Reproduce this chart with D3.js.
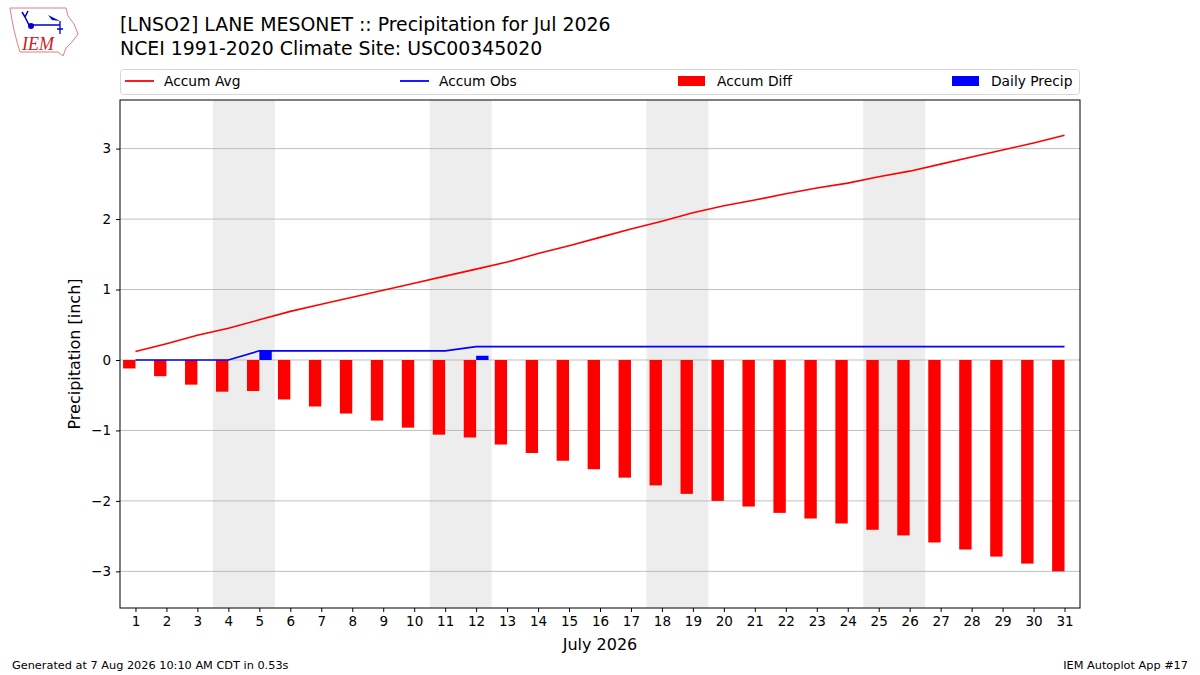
<!DOCTYPE html>
<html>
<head>
<meta charset="utf-8">
<script src="https://cdn.jsdelivr.net/npm/d3@7"></script>
<style>
  body { margin: 0; background: #fff; }
  svg { display: block; font-family: "DejaVu Sans", sans-serif; }
</style>
</head>
<body>
<svg id="chart" width="1200" height="675"></svg>
<script>
const days = d3.range(1, 32);
const accumAvg = [0.12, 0.23, 0.35, 0.45, 0.57, 0.69, 0.79, 0.89, 0.99, 1.09,
  1.19, 1.29, 1.39, 1.51, 1.62, 1.74, 1.86, 1.97, 2.09, 2.19,
  2.27, 2.36, 2.44, 2.51, 2.60, 2.68, 2.78, 2.88, 2.98, 3.08, 3.19];
const accumObs = [0, 0, 0, 0, 0.13, 0.13, 0.13, 0.13, 0.13, 0.13,
  0.13, 0.19, 0.19, 0.19, 0.19, 0.19, 0.19, 0.19, 0.19, 0.19,
  0.19, 0.19, 0.19, 0.19, 0.19, 0.19, 0.19, 0.19, 0.19, 0.19, 0.19];
const accumDiff = [-0.12, -0.23, -0.35, -0.45, -0.44, -0.56, -0.66, -0.76, -0.86, -0.96,
  -1.06, -1.10, -1.20, -1.32, -1.43, -1.55, -1.67, -1.78, -1.90, -2.00,
  -2.08, -2.17, -2.25, -2.32, -2.41, -2.49, -2.59, -2.69, -2.79, -2.89, -3.00];
const dailyPrecip = [0, 0, 0, 0, 0.13, 0, 0, 0, 0, 0,
  0, 0.06, 0, 0, 0, 0, 0, 0, 0, 0,
  0, 0, 0, 0, 0, 0, 0, 0, 0, 0, 0];
const weekends = [[4, 5], [11, 12], [18, 19], [25, 26]];
const yTicks = [-3, -2, -1, 0, 1, 2, 3];

const svg = d3.select("#chart");
const m = {left: 120, right: 1080, top: 100, bottom: 608};

const x = d3.scaleLinear().domain([0.5, 31.5]).range([m.left, m.right]);
const y = d3.scaleLinear().domain([-3.52, 3.69]).range([m.bottom, m.top]);
const bw = 0.4;

svg.append("defs").append("clipPath").attr("id", "plot")
  .append("rect").attr("x", m.left).attr("y", m.top)
  .attr("width", m.right - m.left).attr("height", m.bottom - m.top);

const g = svg.append("g").attr("clip-path", "url(#plot)");

// weekend shading
g.selectAll("rect.wk").data(weekends).join("rect")
  .attr("class", "wk")
  .attr("x", d => x(d[0] - 0.5))
  .attr("width", d => x(d[1] + 0.5) - x(d[0] - 0.5))
  .attr("y", m.top).attr("height", m.bottom - m.top)
  .attr("fill", "#ededed");

// grid
g.selectAll("line.grid").data(yTicks).join("line")
  .attr("class", "grid")
  .attr("x1", m.left).attr("x2", m.right)
  .attr("y1", d => y(d)).attr("y2", d => y(d))
  .attr("stroke", "#b0b0b0").attr("stroke-width", 0.8);

// accum diff bars (left of the day)
g.selectAll("rect.diff").data(days).join("rect")
  .attr("class", "diff")
  .attr("x", d => x(d - bw))
  .attr("width", x(bw) - x(0))
  .attr("y", (d, i) => y(Math.max(0, accumDiff[i])))
  .attr("height", (d, i) => Math.abs(y(accumDiff[i]) - y(0)))
  .attr("fill", "#ff0000");

// daily precip bars (right of the day)
g.selectAll("rect.daily").data(days).join("rect")
  .attr("class", "daily")
  .attr("x", d => x(d))
  .attr("width", x(bw) - x(0))
  .attr("y", (d, i) => y(dailyPrecip[i]))
  .attr("height", (d, i) => y(0) - y(dailyPrecip[i]))
  .attr("fill", "#0000ff");

const line = vals => d3.line().x((d, i) => x(days[i])).y(d => y(d))(vals);
g.append("path").attr("d", line(accumAvg))
  .attr("fill", "none").attr("stroke", "#ff0000").attr("stroke-width", 1.6);
g.append("path").attr("d", line(accumObs))
  .attr("fill", "none").attr("stroke", "#0000ff").attr("stroke-width", 1.6);

// frame
svg.append("rect").attr("x", m.left).attr("y", m.top)
  .attr("width", m.right - m.left).attr("height", m.bottom - m.top)
  .attr("fill", "none").attr("stroke", "#000").attr("stroke-width", 1);

// axes
const xAxis = svg.append("g").attr("transform", `translate(0,${m.bottom})`)
  .call(d3.axisBottom(x).tickValues(days).tickFormat(d3.format("d")).tickSize(4).tickPadding(4));
const yAxis = svg.append("g").attr("transform", `translate(${m.left},0)`)
  .call(d3.axisLeft(y).tickValues(yTicks).tickFormat(d => d < 0 ? "\u2212" + Math.abs(d) : d).tickSize(4).tickPadding(5));
[xAxis, yAxis].forEach(a => {
  a.select(".domain").remove();
  a.selectAll("text").attr("font-size", 13.5).attr("fill", "#000")
    .attr("font-family", "DejaVu Sans, sans-serif");
  a.selectAll("line").attr("stroke", "#000");
});

svg.append("text").attr("x", x(16)).attr("y", 650).attr("text-anchor", "middle")
  .attr("font-size", 16).text("July 2026");
svg.append("text").attr("transform", `translate(80,${(m.top + m.bottom) / 2}) rotate(-90)`)
  .attr("text-anchor", "middle").attr("font-size", 16).text("Precipitation [inch]");

// titles
svg.append("text").attr("x", 120).attr("y", 31).attr("font-size", 18.9)
  .text("[LNSO2] LANE MESONET :: Precipitation for Jul 2026");
svg.append("text").attr("x", 120).attr("y", 55).attr("font-size", 18.9)
  .text("NCEI 1991-2020 Climate Site: USC00345020");

// legend
const legend = svg.append("g");
legend.append("rect").attr("x", 120.5).attr("y", 69.5).attr("width", 959).attr("height", 25)
  .attr("rx", 3).attr("fill", "#fff").attr("stroke", "#d6d6d6");
const legendItems = [
  {label: "Accum Avg", type: "line", color: "#ff0000", x: 125},
  {label: "Accum Obs", type: "line", color: "#0000ff", x: 400},
  {label: "Accum Diff", type: "bar", color: "#ff0000", x: 678},
  {label: "Daily Precip", type: "bar", color: "#0000ff", x: 952}
];
legendItems.forEach(d => {
  if (d.type === "line") {
    legend.append("line").attr("x1", d.x).attr("x2", d.x + 29).attr("y1", 81).attr("y2", 81)
      .attr("stroke", d.color).attr("stroke-width", 1.8);
  } else {
    legend.append("rect").attr("x", d.x).attr("y", 76).attr("width", 27).attr("height", 10)
      .attr("fill", d.color);
  }
  legend.append("text").attr("x", d.x + 39).attr("y", 86).attr("font-size", 13.8).text(d.label);
});

// footer
svg.append("text").attr("x", 12).attr("y", 669).attr("font-size", 11.3).text("Generated at 7 Aug 2026 10:10 AM CDT in 0.53s");
svg.append("text").attr("x", 1188).attr("y", 669).attr("text-anchor", "end").attr("font-size", 11.3).text("IEM Autoplot App #17");

// logo (simplified)
const logo = svg.append("g");
logo.append("path")
  .attr("d", "M10,8 L66,8 L68,16 L74,24 L78,34 L72,42 L66,48 L63,56 L58,52 L20,52 L17,42 L14,30 L12,20 Z")
  .attr("fill", "none").attr("stroke", "#e08080").attr("stroke-width", 1);
logo.append("path").attr("d", "M22,12 L25,17 M28,11 L25,17 L29,25 L60,25").attr("fill", "none").attr("stroke", "#0000cc").attr("stroke-width", 1.5);
logo.append("circle").attr("cx", 31).attr("cy", 26).attr("r", 3).attr("fill", "#0000cc");
logo.append("path").attr("d", "M48,15 L56,19 L60,21 L52,20 Z").attr("fill", "#0000cc");
logo.append("path").attr("d", "M60,21 L60,34 M57,29 L63,29").attr("stroke", "#0000cc").attr("stroke-width", 1.3);
logo.append("text").attr("x", 22).attr("y", 50).attr("font-family", "Liberation Serif, serif")
  .attr("font-style", "italic").attr("font-size", 18).attr("fill", "#cc2222").text("IEM");
</script>
</body>
</html>
